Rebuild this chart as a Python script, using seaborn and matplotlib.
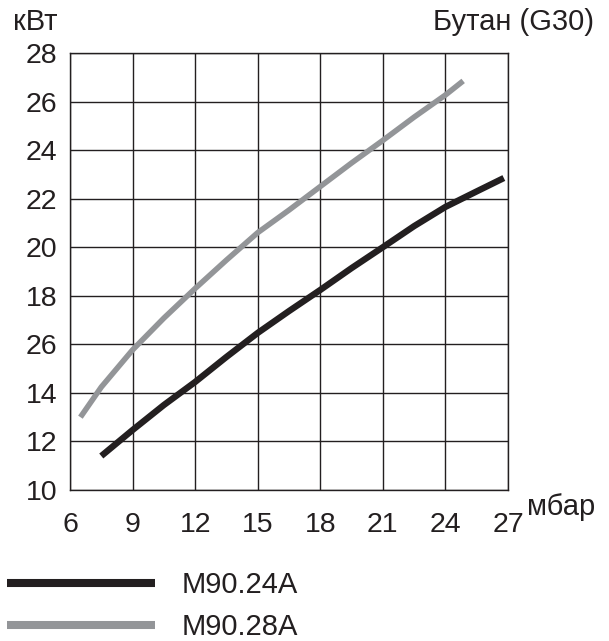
import pandas as pd
import numpy as np
import seaborn as sns
import matplotlib.pyplot as plt

# values
x_24a = [7.5, 9, 10.5, 12, 13.5, 15, 16.5, 18, 19.5, 21, 22.5, 24, 25.5, 26.8]
y_24a = [11.4, 12.47, 13.5, 14.45, 15.48, 16.47, 17.37, 18.24, 19.14, 20.0, 20.87, 21.66, 22.3, 22.85]

x_28a = [6.5, 7.5, 9, 10.5, 12, 13.5, 15, 16.5, 18, 19.5, 21, 22.5, 24, 24.85]
y_28a = [13.0, 14.24, 15.77, 17.08, 18.3, 19.47, 20.6, 21.53, 22.5, 23.47, 24.4, 25.36, 26.27, 26.85]

x_ticks = [6, 9, 12, 15, 18, 21, 24, 27]
y_ticks = [10, 12, 14, 26, 18, 20, 22, 24, 26, 28]  # the source labels 16 as "26"
y_tick_pos = [10, 12, 14, 16, 18, 20, 22, 24, 26, 28]

labels = ['M90.24A', 'M90.28A']
colors = ['#231f20', '#939598']

sns.set_theme(style='white')
plt.rcParams['font.family'] = ['Liberation Sans', 'DejaVu Sans']

fig = plt.figure(figsize=(6.09, 6.41), dpi=100)
ax = fig.add_axes([70 / 609, 1 - 490 / 641, 438 / 609, 437 / 641])

df1 = pd.DataFrame({'x': x_24a, 'y': y_24a})
df2 = pd.DataFrame({'x': x_28a, 'y': y_28a})
sns.lineplot(data=df1, x='x', y='y', ax=ax, color=colors[0], linewidth=4.6,
             label=labels[0], solid_capstyle='butt', solid_joinstyle='round')
sns.lineplot(data=df2, x='x', y='y', ax=ax, color=colors[1], linewidth=4.0,
             label=labels[1], solid_capstyle='butt', solid_joinstyle='round')

ax.set_xlim(6, 27)
ax.set_ylim(10, 28)
ax.set_xticks(x_ticks)
ax.set_yticks(y_tick_pos)
ax.set_yticklabels([str(v) for v in y_ticks])
ax.grid(True, color='#231f20', linewidth=1.0)
ax.set_axisbelow(True)
for s in ax.spines.values():
    s.set_color('#231f20')
    s.set_linewidth(1.0)
ax.tick_params(axis='both', length=0, labelsize=20.5, colors='#231f20')
ax.tick_params(axis='x', pad=16)
ax.tick_params(axis='y', pad=9)
ax.set_xlabel('')
ax.set_ylabel('')

fig.text(13 / 609, 1 - 22 / 641, 'кВт', fontsize=21, color='#231f20', va='center')
fig.text(594 / 609, 1 - 22 / 641, 'Бутан (G30)', fontsize=21, color='#231f20',
         va='center', ha='right')
fig.text(527 / 609, 1 - 507 / 641, 'мбар', fontsize=21, color='#231f20', va='center')

leg = ax.legend(loc='upper left', bbox_to_anchor=(7 / 609, 1 - 571 / 641),
                bbox_transform=fig.transFigure, frameon=False, fontsize=21,
                handlelength=5.07, handletextpad=0.92, labelspacing=0.48,
                borderaxespad=0, borderpad=0)
for t in leg.get_texts():
    t.set_color('#231f20')
for h in leg.get_lines():
    h.set_linewidth(5.8)

fig.savefig('out.png', dpi=100)
